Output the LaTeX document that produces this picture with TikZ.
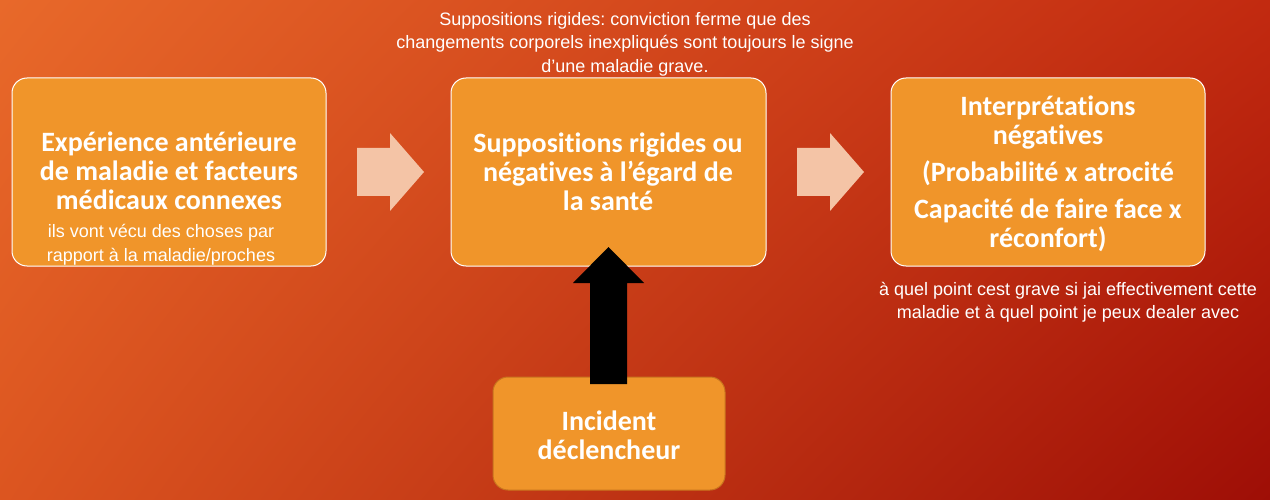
\documentclass[tikz,border=0pt]{standalone}
\usepackage{fontspec}
\setmainfont{Liberation Sans}
\newfontfamily\titlefont[Ligatures=NoCommon]{Carlito}
\usetikzlibrary{shapes.arrows,shadings}
\frenchspacing
\definecolor{bgTL}{HTML}{E8692A}
\definecolor{bgTR}{HTML}{C22A10}
\definecolor{bgBL}{HTML}{DC5520}
\definecolor{bgBR}{HTML}{9E0E06}
\definecolor{boxfill}{HTML}{F0952A}
\definecolor{boxedge}{HTML}{C8731E}
\definecolor{peach}{HTML}{F4C4A6}
\tikzset{
  mainbox/.style={draw=white, line width=1pt, fill=boxfill, rounded corners=15pt},
  trigbox/.style={draw=boxedge, line width=1pt, fill=boxfill, rounded corners=15pt},
  title/.style={text=white, font=\titlefont\bfseries\fontsize{28}{29}\selectfont, align=center, inner sep=0pt},
  note/.style={text=white, font=\fontsize{18}{23.5}\selectfont, align=center, inner sep=0pt},
  peacharrow/.style={fill=peach, draw=none},
}
\begin{document}
\begin{tikzpicture}[x=1pt,y=-1pt]
\useasboundingbox (0,0) rectangle (1270,500);
\shade[upper left=bgTL, upper right=bgTR, lower left=bgBL, lower right=bgBR] (0,0) rectangle (1270,500);
% boxes
\path[mainbox] (12,78) rectangle (326,266);
\path[mainbox] (451,78) rectangle (766,266);
\path[mainbox] (891,78) rectangle (1205,266);
\path[trigbox] (493,377) rectangle (725,490);
% peach arrows
\path[peacharrow] (357,148) -- (390,148) -- (390,133) -- (424,172) -- (390,211) -- (390,196) -- (357,196) -- cycle;
\path[peacharrow] (797,148) -- (830,148) -- (830,133) -- (864,172) -- (830,211) -- (830,196) -- (797,196) -- cycle;
% black arrow
\fill[black] (590,384) -- (590,283) -- (573,283) -- (608.5,247) -- (644,283) -- (627,283) -- (627,384) -- cycle;
% texts
\node[title] (t1) at (169,171) {Expérience antérieure\\de maladie et facteurs\\médicaux connexes};
\node[note] (n1) at (161,244.5) {ils vont vécu des choses par\\rapport à la maladie/proches};
\node[title] (t2) at (608,172) {Suppositions rigides ou\\négatives à l’égard de\\la santé};
\node[note] (n2) at (625,44) {Suppositions rigides: conviction ferme que des\\changements corporels inexpliqués sont toujours le signe\\d’une maladie grave.};
\node[title] (t3a) at (1048,123) {Interprétations\\négatives};
\node[title] (t3b) at (1048,173.5) {(Probabilité x atrocité};
\node[title] (t3c) at (1048,225) {Capacité de faire face x\\réconfort)};
\node[note] (n3) at (1068,302) {à quel point cest grave si jai effectivement cette\\maladie et à quel point je peux dealer avec};
\node[title] (t4) at (609,435) {Incident\\déclencheur};
\end{tikzpicture}
\end{document}
